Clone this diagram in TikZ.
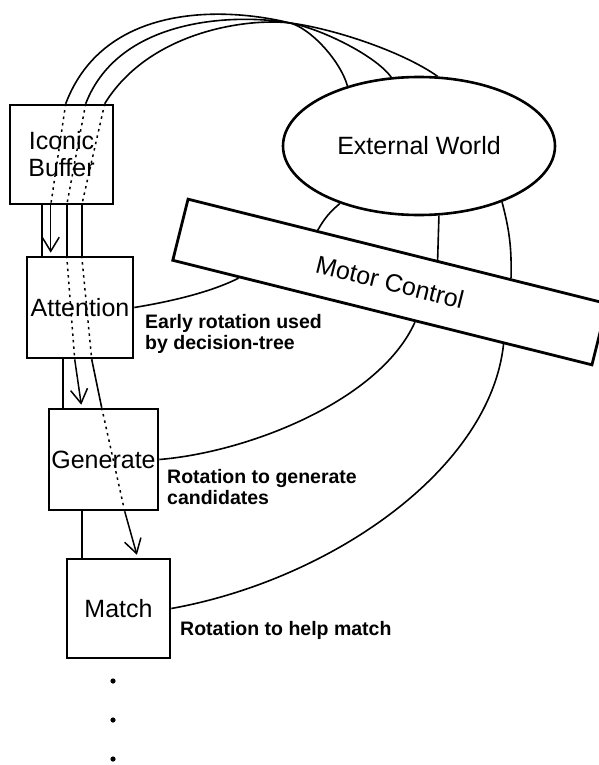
\documentclass[tikz,border=0pt]{standalone}
\usepackage{fontspec}
\setmainfont{Liberation Sans}
\usetikzlibrary{shapes.geometric,arrows.meta,calc}

\begin{document}
\begin{tikzpicture}[x=1pt,y=-1pt]
  \tikzstyle{box}=[draw,line width=2.6pt,minimum width=103pt,minimum height=99pt,inner sep=0pt,align=center,font=\fontsize{25}{27}\selectfont]
  \tikzstyle{note}=[anchor=north west,inner sep=0pt,align=left,font=\fontsize{19.5}{21}\selectfont\bfseries]
  \tikzstyle{link}=[line width=1.6pt]
  \tikzstyle{seen}=[line width=1.5pt,dash pattern=on 2.5pt off 4pt]
  \tikzstyle{gaze}=[line width=1.5pt,-{Straight Barb[length=14pt,width=17pt]},shorten >=3pt]
  \useasboundingbox (0,0) rectangle (598,765);
  \node[box] (IB) at (61.5,154.5) {Iconic\\Buffer};
  \node[box,minimum width=106pt,minimum height=101pt] (AT) at (80,307.5) {Attention};
  \node[box,minimum width=109pt,minimum height=101pt] (GE) at (103.5,459.5) {Generate};
  \node[box] (MA) at (118.5,608.5) {Match};
  \node[ellipse,draw,line width=2.6pt,minimum width=272pt,minimum height=138pt,inner sep=0pt,font=\fontsize{25}{27}\selectfont] (EW) at (419,146) {External World};
  \node[draw,line width=2.8pt,minimum width=432pt,minimum height=63pt,rotate=-14,font=\fontsize{25}{27}\selectfont] (MC) at (390,282) {Motor Control};
  % notes
  \node[note] (early) at (145,314) {Early rotation used\\by decision-tree};
  \node[note] (cand) at (167,469) {Rotation to generate\\candidates};
  \node[note] (help) at (180,621) {Rotation to help match};
  % box to box
  \draw[link] ([xshift=33pt]IB.south west) -- ([xshift=16pt]AT.north west);
  \draw[link] ([xshift=37pt]AT.south west) -- ([xshift=15pt]GE.north west);
  \draw[link] ([xshift=34pt]GE.south west) -- ([xshift=16pt]MA.north west);
  % world to buffer and down
  \draw[link] (EW.140) .. controls (340,60) and (310,28) .. (290,23)
    .. controls (230,8) and (105,0) .. ([xshift=57pt]IB.north west);
  \draw[seen] ([xshift=57pt]IB.north west) -- ([xshift=42pt]IB.south west);
  \draw[gaze] ([xshift=42pt]IB.south west) -- ([xshift=25pt]AT.north west);
  \draw[link] (EW.112) .. controls (375,55) and (320,28.4) .. (290,23)
    .. controls (240,14) and (120,15) .. ([xshift=77pt]IB.north west);
  \draw[seen] ([xshift=77pt]IB.north west) -- ([xshift=58pt]IB.south west);
  \draw[link] ([xshift=58pt]IB.south west) -- ([xshift=41pt]AT.north west);
  \draw[seen] ([xshift=41pt]AT.north west) -- ([xshift=49pt]AT.south west);
  \draw[gaze] ([xshift=49pt]AT.south west) -- ([xshift=34pt]GE.north west);
  \draw[link] (EW.75) .. controls (400,50) and (330,28) .. (290,23)
    .. controls (250,18) and (150,30) .. ([xshift=96pt]IB.north west);
  \draw[seen] ([xshift=96pt]IB.north west) -- ([xshift=73pt]IB.south west);
  \draw[link] ([xshift=73pt]IB.south west) -- ([xshift=56pt]AT.north west);
  \draw[seen] ([xshift=56pt]AT.north west) -- ([xshift=66pt]AT.south west);
  \draw[link] ([xshift=66pt]AT.south west) -- ([xshift=54pt]GE.north west);
  \draw[seen] ([xshift=54pt]GE.north west) -- ([xshift=77pt]GE.south west);
  \draw[gaze] ([xshift=77pt]GE.south west) -- ([xshift=72pt]MA.north west);
  % motor control
  \draw[link] (AT.east) .. controls (180,300) and (215,290) .. ($(MC.south west)!0.16!(MC.south east)$);
  \draw[link] (GE.east) .. controls (250,452) and (380,400) .. ($(MC.south west)!0.578!(MC.south east)$);
  \draw[link] (MA.east) .. controls (330,580) and (490,470) .. ($(MC.south west)!0.788!(MC.south east)$);
  \draw[link] (EW.216) to[bend right=10] ($(MC.north west)!0.31!(MC.north east)$);
  \draw[link] (EW.286) -- ($(MC.north west)!0.594!(MC.north east)$);
  \draw[link] (EW.326) to[bend left=8] ($(MC.north west)!0.768!(MC.north east)$);
  % more steps
  \foreach \y in {681,720,759}
    \fill (113,\y) circle (2.6pt);
\end{tikzpicture}
\end{document}
